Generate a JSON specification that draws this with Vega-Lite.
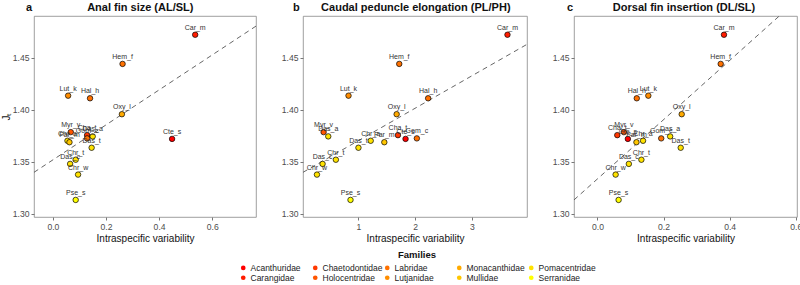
{
  "$schema": "https://vega.github.io/schema/vega-lite/v6.json",
  "padding": {"left": 0, "right": 0, "top": 1, "bottom": 0},
  "background": "white",
  "datasets": {
    "fish": [
      {"sp": "Car_m", "fam": "Carangidae", "jt": 1.472, "a": 0.536, "b": 3.626, "c": 0.383},
      {"sp": "Hem_f", "fam": "Labridae", "jt": 1.444, "a": 0.2625, "b": 1.719, "c": 0.373},
      {"sp": "Lut_k", "fam": "Lutjanidae", "jt": 1.4135, "a": 0.0575, "b": 0.825, "c": 0.154},
      {"sp": "Hal_h", "fam": "Labridae", "jt": 1.411, "a": 0.14, "b": 2.228, "c": 0.119},
      {"sp": "Oxy_l", "fam": "Monacanthidae", "jt": 1.3957, "a": 0.26, "b": 1.673, "c": 0.255},
      {"sp": "Myr_v", "fam": "Holocentridae", "jt": 1.3785, "a": 0.0675, "b": 0.386, "c": 0.08},
      {"sp": "Cha_t", "fam": "Chaetodontidae", "jt": 1.3756, "a": 0.129, "b": 1.696, "c": 0.06},
      {"sp": "Das_a", "fam": "Pomacentridae", "jt": 1.3744, "a": 0.15, "b": 0.468, "c": 0.22},
      {"sp": "Gom_c", "fam": "Labridae", "jt": 1.3725, "a": 0.129, "b": 2.029, "c": 0.193},
      {"sp": "Cte_s", "fam": "Acanthuridae", "jt": 1.372, "a": 0.449, "b": 1.83, "c": 0.092},
      {"sp": "Chr_a", "fam": "Pomacentridae", "jt": 1.3702, "a": 0.055, "b": 1.216, "c": 0.138},
      {"sp": "Par_m", "fam": "Mullidae", "jt": 1.3688, "a": 0.0625, "b": 1.456, "c": 0.118},
      {"sp": "Das_t", "fam": "Pomacentridae", "jt": 1.3635, "a": 0.146, "b": 1.0, "c": 0.252},
      {"sp": "Chr_t", "fam": "Pomacentridae", "jt": 1.352, "a": 0.086, "b": 0.602, "c": 0.133},
      {"sp": "Das_c", "fam": "Pomacentridae", "jt": 1.348, "a": 0.065, "b": 0.368, "c": 0.095},
      {"sp": "Chr_w", "fam": "Pomacentridae", "jt": 1.3377, "a": 0.095, "b": 0.269, "c": 0.055},
      {"sp": "Pse_s", "fam": "Serranidae", "jt": 1.3134, "a": 0.086, "b": 0.86, "c": 0.064}
    ],
    "fits": [
      {"panel": "a", "x": -0.071, "y": 1.3399},
      {"panel": "a", "x": 0.765, "y": 1.4803},
      {"panel": "b", "x": 0.023, "y": 1.3399},
      {"panel": "b", "x": 3.97, "y": 1.4628},
      {"panel": "c", "x": -0.071, "y": 1.3134},
      {"panel": "c", "x": 0.55, "y": 1.4899}
    ]
  },
  "hconcat": [
    {
      "width": 222, "height": 201,
      "title": {"text": "a\u00a0\u00a0\u00a0\u00a0\u00a0\u00a0\u00a0\u00a0\u00a0\u00a0\u00a0\u00a0\u00a0\u00a0\u00a0\u00a0\u00a0\u00a0Anal fin size (AL/SL)", "anchor": "start", "frame": "group", "dx": -8},
      "layer": [
        {
          "data": {"name": "fits"},
          "transform": [{"filter": "datum.panel == 'a'"}],
          "mark": {"type": "line", "strokeDash": [5, 4], "color": "#555555", "strokeWidth": 0.9, "clip": true},
          "encoding": {
            "x": {"field": "x", "type": "quantitative", "scale": {"domain": [-0.071, 0.765], "nice": false, "zero": false},
                  "axis": {"values": [0, 0.2, 0.4, 0.6], "format": ".1f", "title": "Intraspecific variability"}},
            "y": {"field": "y", "type": "quantitative", "scale": {"domain": [1.297, 1.49], "nice": false, "zero": false},
                  "axis": {"values": [1.3, 1.35, 1.4, 1.45], "format": ".2f", "title": "J\u209c", "titleFontSize": 10, "titlePadding": 1}}
          }
        },
        {
          "data": {"name": "fish"},
          "mark": {"type": "circle", "size": 30, "stroke": "black", "strokeWidth": 0.7, "opacity": 1},
          "encoding": {
            "x": {"field": "a", "type": "quantitative"},
            "y": {"field": "jt", "type": "quantitative"},
            "fill": {"field": "fam", "type": "nominal", "title": "Families",
                     "scale": {"domain": ["Acanthuridae", "Chaetodontidae", "Labridae", "Monacanthidae", "Pomacentridae", "Carangidae", "Holocentridae", "Lutjanidae", "Mullidae", "Serranidae"],
                               "range": ["#FF0000", "#FF3800", "#FF7100", "#FFAA00", "#FFE200", "#FF1C00", "#FF5500", "#FF8D00", "#FFC600", "#FFFF00"]}}
          }
        },
        {
          "data": {"name": "fish"},
          "mark": {"type": "text", "fontSize": 7, "color": "#333333", "dy": -7},
          "encoding": {
            "x": {"field": "a", "type": "quantitative"},
            "y": {"field": "jt", "type": "quantitative"},
            "text": {"field": "sp"}
          }
        },
        {
          "mark": {"type": "text", "text": "R\u00b2 = 0.49", "align": "left", "baseline": "middle", "fontSize": 8.5, "color": "#222222"},
          "encoding": {"x": {"datum": 0.503}, "y": {"datum": 1.3118}}
        },
        {
          "mark": {"type": "text", "text": "PGLS P-value < 0.05", "align": "left", "baseline": "middle", "fontSize": 8.5, "color": "#222222"},
          "encoding": {"x": {"datum": 0.503}, "y": {"datum": 1.3041}}
        }
      ]
    },
    {
      "width": 224, "height": 201,
      "title": {"text": "b\u00a0\u00a0\u00a0\u00a0\u00a0\u00a0\u00a0Caudal peduncle elongation (PL/PH)", "anchor": "start", "frame": "group", "dx": -10},
      "layer": [
        {
          "data": {"name": "fits"},
          "transform": [{"filter": "datum.panel == 'b'"}],
          "mark": {"type": "line", "strokeDash": [5, 4], "color": "#555555", "strokeWidth": 0.9, "clip": true},
          "encoding": {
            "x": {"field": "x", "type": "quantitative", "scale": {"domain": [0.023, 3.97], "nice": false, "zero": false},
                  "axis": {"values": [1, 2, 3], "format": "d", "title": "Intraspecific variability"}},
            "y": {"field": "y", "type": "quantitative", "scale": {"domain": [1.297, 1.49], "nice": false, "zero": false},
                  "axis": {"values": [1.3, 1.35, 1.4, 1.45], "format": ".2f", "title": null}}
          }
        },
        {
          "data": {"name": "fish"},
          "mark": {"type": "circle", "size": 30, "stroke": "black", "strokeWidth": 0.7, "opacity": 1},
          "encoding": {
            "x": {"field": "b", "type": "quantitative"},
            "y": {"field": "jt", "type": "quantitative"},
            "fill": {"field": "fam", "type": "nominal", "title": "Families"}
          }
        },
        {
          "data": {"name": "fish"},
          "mark": {"type": "text", "fontSize": 7, "color": "#333333", "dy": -7},
          "encoding": {
            "x": {"field": "b", "type": "quantitative"},
            "y": {"field": "jt", "type": "quantitative"},
            "text": {"field": "sp"}
          }
        },
        {
          "mark": {"type": "text", "text": "R\u00b2 = 0.65", "align": "left", "baseline": "middle", "fontSize": 8.5, "color": "#222222"},
          "encoding": {"x": {"datum": 2.737}, "y": {"datum": 1.3118}}
        },
        {
          "mark": {"type": "text", "text": "PGLS P-value < 0.05", "align": "left", "baseline": "middle", "fontSize": 8.5, "color": "#222222"},
          "encoding": {"x": {"datum": 2.737}, "y": {"datum": 1.3041}}
        }
      ]
    },
    {
      "width": 223, "height": 201,
      "title": {"text": "c\u00a0\u00a0\u00a0\u00a0\u00a0\u00a0\u00a0\u00a0\u00a0\u00a0\u00a0\u00a0\u00a0Dorsal fin insertion (DL/SL)", "anchor": "start", "frame": "group", "dx": -7},
      "layer": [
        {
          "data": {"name": "fits"},
          "transform": [{"filter": "datum.panel == 'c'"}],
          "mark": {"type": "line", "strokeDash": [5, 4], "color": "#555555", "strokeWidth": 0.9, "clip": true},
          "encoding": {
            "x": {"field": "x", "type": "quantitative", "scale": {"domain": [-0.071, 0.604], "nice": false, "zero": false},
                  "axis": {"values": [0, 0.1, 0.2, 0.3, 0.4, 0.5, 0.6], "format": ".1f", "title": "Intraspecific variability"}},
            "y": {"field": "y", "type": "quantitative", "scale": {"domain": [1.297, 1.49], "nice": false, "zero": false},
                  "axis": {"values": [1.3, 1.35, 1.4, 1.45], "format": ".2f", "title": null}}
          }
        },
        {
          "data": {"name": "fish"},
          "mark": {"type": "circle", "size": 30, "stroke": "black", "strokeWidth": 0.7, "opacity": 1},
          "encoding": {
            "x": {"field": "c", "type": "quantitative"},
            "y": {"field": "jt", "type": "quantitative"},
            "fill": {"field": "fam", "type": "nominal", "title": "Families"}
          }
        },
        {
          "data": {"name": "fish"},
          "mark": {"type": "text", "fontSize": 7, "color": "#333333", "dy": -7},
          "encoding": {
            "x": {"field": "c", "type": "quantitative"},
            "y": {"field": "jt", "type": "quantitative"},
            "text": {"field": "sp"}
          }
        },
        {
          "mark": {"type": "text", "text": "R\u00b2 = 0.63", "align": "left", "baseline": "middle", "fontSize": 8.5, "color": "#222222"},
          "encoding": {"x": {"datum": 0.393}, "y": {"datum": 1.3118}}
        },
        {
          "mark": {"type": "text", "text": "PGLS P-value < 0.05", "align": "left", "baseline": "middle", "fontSize": 8.5, "color": "#222222"},
          "encoding": {"x": {"datum": 0.393}, "y": {"datum": 1.3041}}
        }
      ]
    }
  ],
  "resolve": {"scale": {"x": "independent", "y": "independent", "fill": "shared"}},
  "config": {
    "font": "Liberation Sans",
    "view": {"stroke": "#888888", "strokeWidth": 0.8},
    "concat": {"spacing": 23},
    "axis": {"grid": false, "domain": false, "labelOverlap": false, "tickColor": "#777777", "tickSize": 3, "labelFontSize": 8.6, "labelColor": "#4d4d4d", "titleFontSize": 10, "titleFontWeight": "normal", "titleColor": "#111111", "labelPadding": 2, "titlePadding": 3},
    "title": {"fontSize": 11, "fontWeight": "bold", "color": "#111111", "offset": 3},
    "legend": {
      "orient": "none", "legendX": 205, "legendY": 234,
      "columns": 5, "direction": "horizontal", "gridAlign": "all",
      "titleAnchor": "middle", "titleFontSize": 9.5, "titleFontWeight": "bold", "titleColor": "#111111", "titlePadding": 4,
      "labelFontSize": 8.5, "labelColor": "#222222", "symbolType": "circle", "symbolSize": 22, "symbolStrokeWidth": 0,
      "columnPadding": 0, "rowPadding": 1, "labelOffset": 3, "symbolOffset": 0
    }
  }
}
